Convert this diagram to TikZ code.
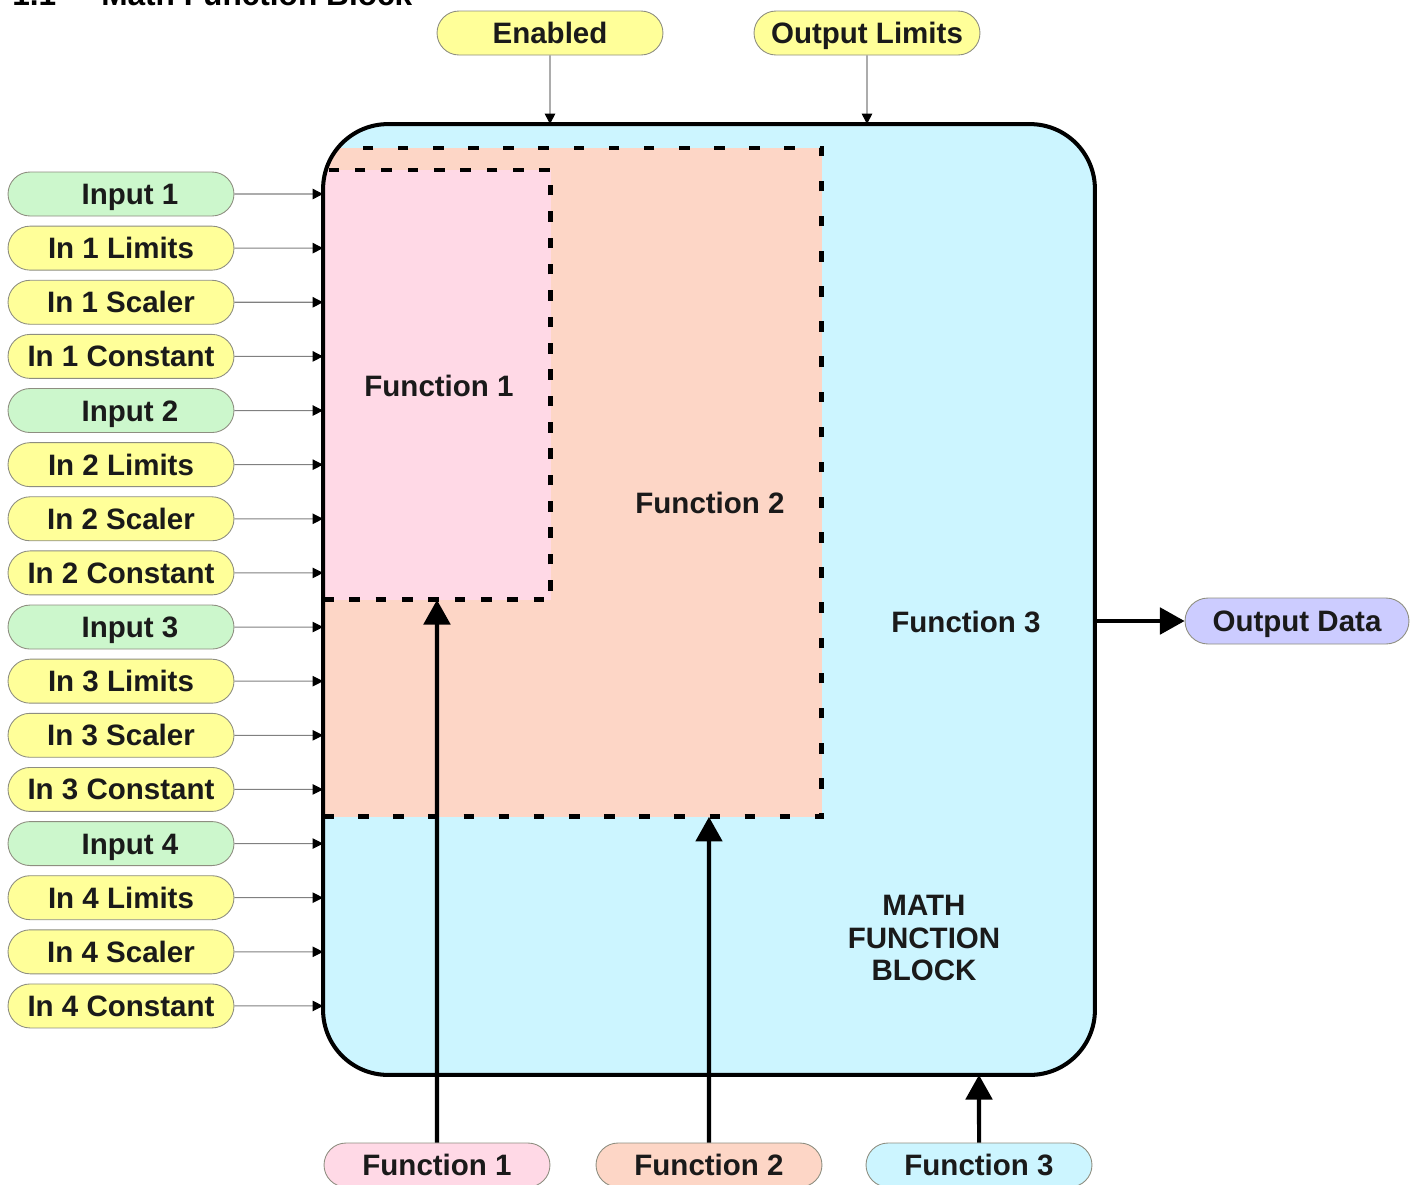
\documentclass[tikz,border=0pt]{standalone}
\usepackage{fontspec}
\setmainfont{Liberation Sans}
\usetikzlibrary{shapes.misc,arrows.meta}
\definecolor{pillyellow}{HTML}{FFFF99}
\definecolor{pillgreen}{HTML}{CCF7CC}
\definecolor{pillblue}{HTML}{CCCCFF}
\definecolor{funcpink}{HTML}{FFD9E6}
\definecolor{funcsalmon}{HTML}{FDD6C6}
\definecolor{funccyan}{HTML}{CCF5FF}
\definecolor{pilledge}{HTML}{8E8E80}
\definecolor{textdark}{HTML}{1A1A1A}
\tikzset{
  pill/.style={rounded rectangle, draw=pilledge, line width=0.5pt,
    minimum width=4.52cm, minimum height=0.88cm, inner sep=0pt,
    text height=12pt, text depth=0pt,
    text=textdark, font=\fontsize{16.8}{19}\selectfont\bfseries},
  yellowpill/.style={pill, fill=pillyellow},
  greenpill/.style={pill, fill=pillgreen, execute at begin node=\hspace*{0.36cm}},
  bluepill/.style={pill, fill=pillblue},
  region/.style={draw=black, line width=2.8pt, inner sep=0pt, outer sep=0pt},
  blocklabel/.style={text=textdark, inner sep=0pt,
    font=\fontsize{16.8}{18.7}\selectfont\bfseries},
  thinarrow/.style={draw=gray, line width=0.6pt,
    -{Triangle[color=black, width=6pt, length=6pt]}},
  thickarrow/.style={draw=black, line width=2.3pt,
    -{Triangle[width=15pt, length=14pt]}}
}
\begin{document}
\begin{tikzpicture}[x=0.02cm,y=-0.02cm]
\useasboundingbox (0,0) rectangle (1414,1184);
% heading, cut off by the top edge
\node[anchor=base west, inner sep=0pt, font=\fontsize{18}{22}\selectfont\bfseries] (title)
  at (12,5) {1.1\hspace{0.9cm}Math Function Block};

% the block and its function areas
\node[fill=funccyan, rounded corners=1.3cm, minimum width=15.44cm,
  minimum height=19.02cm, inner sep=0pt, outer sep=0pt] (fb) at (709,599.5) {};
\begin{scope}
  \clip[rounded corners=1.3cm] (fb.north west) rectangle (fb.south east);
  \node[region, fill=funcsalmon, dash pattern=on 6pt off 14pt, minimum width=9.98cm,
    minimum height=13.38cm, anchor=north west] (f2reg) at (323,148) {};
  \node[region, fill=funcpink, dash pattern=on 6pt off 9pt, minimum width=4.56cm,
    minimum height=8.6cm, anchor=north west] (f1reg) at (323,170) {};
\end{scope}
\draw[line width=2.3pt, rounded corners=1.3cm] (fb.north west) rectangle (fb.south east);

\node[blocklabel] (f1lab) at (439,386) {Function 1};
\node[blocklabel] (f2lab) at (710,503) {Function 2};
\node[blocklabel] (f3lab) at (966,622) {Function 3};
\node[blocklabel, align=center] (mfb) at (924,938) {MATH\\FUNCTION\\BLOCK};

% inputs on the left
\foreach \n in {1,...,4}{
  \foreach \lab/\sty [count=\k from 0] in {Input \n/greenpill, In \n\ Limits/yellowpill,
      In \n\ Scaler/yellowpill, In \n\ Constant/yellowpill}{
    \pgfmathsetmacro\ypos{194+((\n-1)*4+\k)*54.13}
    \node[\sty] (in\n\k) at (121,\ypos) {\lab};
    \draw[thinarrow] (in\n\k) -- (fb.west |- in\n\k);
  }
}

% top
\node[yellowpill] (en) at (550,33) {Enabled};
\node[yellowpill] (ol) at (867,33) {Output Limits};
\draw[thinarrow] (en) -- (en |- fb.north);
\draw[thinarrow] (ol) -- (ol |- fb.north);

% output
\node[bluepill, minimum width=4.48cm, minimum height=0.92cm] (od) at (1297,621) {Output Data};
\draw[thickarrow] (fb.east |- od) -- (od);

% function selectors
\node[pill, fill=funcpink] (fn1) at (437,1165) {Function 1};
\node[pill, fill=funcsalmon] (fn2) at (709,1165) {Function 2};
\node[pill, fill=funccyan] (fn3) at (979,1165) {Function 3};
\draw[thickarrow] (fn1) -- (f1reg.south);
\draw[thickarrow] (fn2) -- (fn2 |- f2reg.south);
\draw[thickarrow] (fn3) -- (fn3 |- fb.south);
\end{tikzpicture}
\end{document}
